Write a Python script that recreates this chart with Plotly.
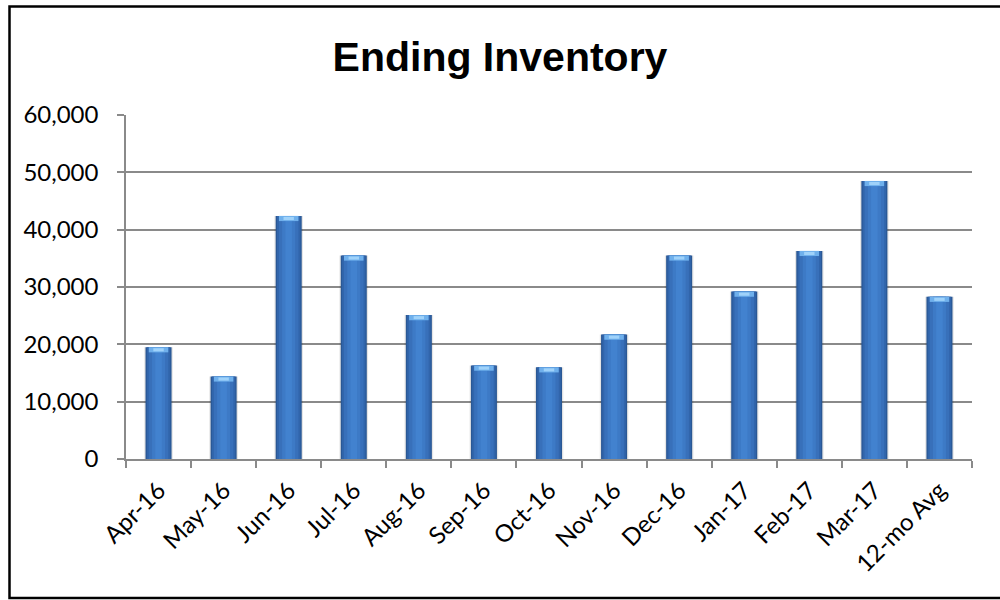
import plotly.graph_objects as go

# Month-end inventory, Apr-2016 through Mar-2017, plus the 12-month average
months = ["Apr-16", "May-16", "Jun-16", "Jul-16", "Aug-16", "Sep-16", "Oct-16",
          "Nov-16", "Dec-16", "Jan-17", "Feb-17", "Mar-17", "12-mo Avg"]
inventory = [19500, 14400, 42400, 35500, 25100, 16300, 16000,
             21700, 35500, 29200, 36300, 48500, 28300]
y_ticks = [0, 10000, 20000, 30000, 40000, 50000, 60000]
y_tick_text = ["0", "10,000", "20,000", "30,000", "40,000", "50,000", "60,000"]

fig = go.Figure()

# Layered bars give each column a rounded, shaded look (dark edges, lighter core)
layers = [
    (0.44, "rgba(0,0,0,0.10)"),
    (0.40, "#2a5895"),
    (0.36, "#3165ab"),
    (0.30, "#3870ba"),
    (0.20, "#3d7ac6"),
    (0.10, "#4282cf"),
]
for w, c in layers:
    fig.add_trace(go.Bar(
        x=months, y=inventory, width=w,
        marker=dict(color=c, line=dict(width=0)),
        hoverinfo="skip", showlegend=False,
    ))

# Light cap on top of each column
cap = 900
fig.add_trace(go.Bar(
    x=months, y=[cap] * len(inventory), base=[v - cap for v in inventory],
    width=0.30, marker=dict(color="#6fb0ec", line=dict(width=0)),
    hoverinfo="skip", showlegend=False,
))
fig.add_trace(go.Bar(
    x=months, y=[cap * 0.6] * len(inventory), base=[v - cap * 0.8 for v in inventory],
    width=0.16, marker=dict(color="#9fd2fa", line=dict(width=0)),
    hoverinfo="skip", showlegend=False,
))

fig.update_layout(
    width=1000, height=600,
    margin=dict(l=126, r=28, t=115, b=141),
    paper_bgcolor="white", plot_bgcolor="white",
    barmode="overlay",
    title=dict(text="<b>Ending Inventory</b>", x=0.5, xanchor="center",
               y=1 - 57 / 600, yanchor="middle",
               font=dict(family="Liberation Sans", size=41, color="black")),
    font=dict(family="Lato", color="black"),
    showlegend=False,
)

fig.update_yaxes(
    range=[0, 60000], tickvals=y_ticks, ticktext=y_tick_text,
    showgrid=True, gridcolor="#8a8a8a", gridwidth=1.5,
    showline=True, linecolor="#8a8a8a", linewidth=1.5,
    ticks="outside", ticklen=7, tickcolor="#8a8a8a", tickwidth=1.5,
    ticklabelstandoff=14,
    tickfont=dict(family="Lato", size=24, color="black"),
    zeroline=False, fixedrange=True,
)
fig.update_xaxes(
    showline=True, linecolor="#8a8a8a", linewidth=1.5,
    ticks="outside", ticklen=7, tickcolor="#8a8a8a", tickwidth=1.5,
    tickson="boundaries", tickangle=-45, ticklabelstandoff=6,
    tickfont=dict(family="Lato", size=24, color="black"),
    showgrid=False, fixedrange=True,
)

# Outer chart frame
fig.add_shape(type="rect", xref="paper", yref="paper",
              x0=(9.5 - 126) / 846, x1=1.2,
              y0=(459 - 598) / 344, y1=(459 - 6.5) / 344,
              line=dict(color="black", width=2.5), fillcolor="rgba(0,0,0,0)",
              layer="below")

fig.write_html("out.html")
